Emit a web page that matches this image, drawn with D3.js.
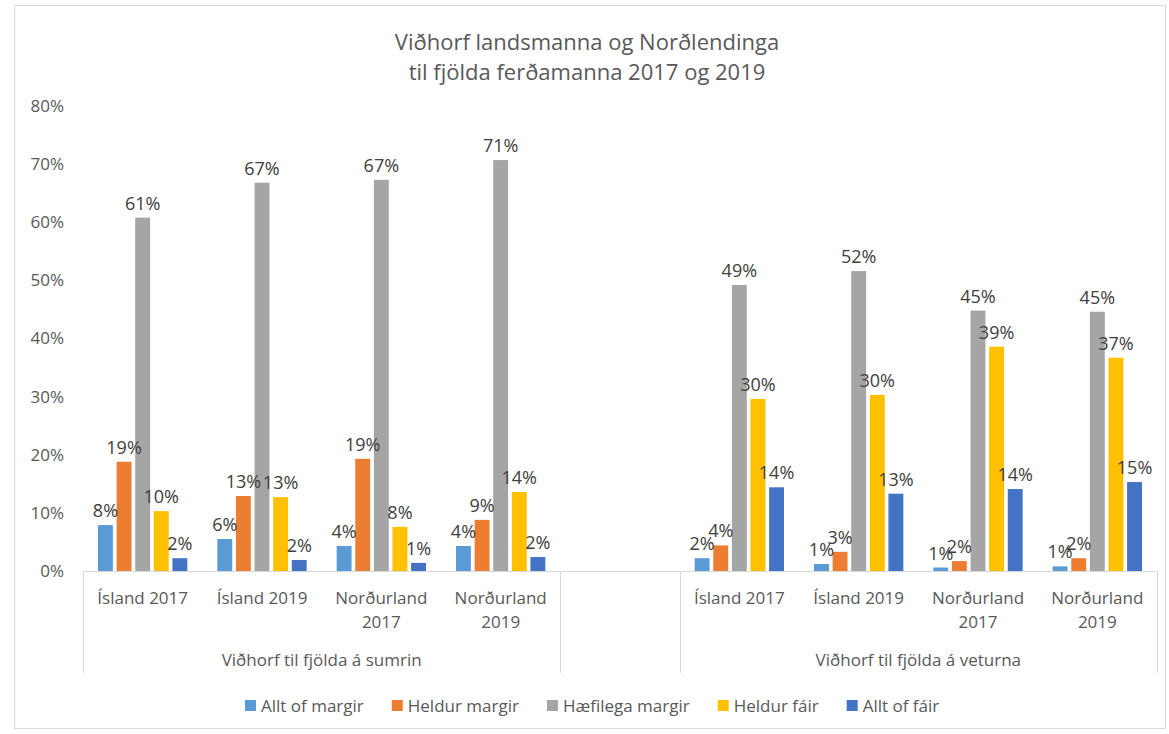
<!DOCTYPE html>
<html>
<head>
<meta charset="utf-8">
<script src="https://cdn.jsdelivr.net/npm/d3@7"></script>
<style>
  body { margin: 0; background: #fff; }
  svg { display: block; font-family: "Open Sans", "Noto Sans", sans-serif; }
</style>
</head>
<body>
<svg id="chart" width="1169" height="734"></svg>
<script>
// data
const categories = ["Ísland 2017", "Ísland 2019", "Norðurland 2017", "Norðurland 2019"];
const groups = ["Viðhorf til fjölda á sumrin", "Viðhorf til fjölda á veturna"];
const series = ["Allt of margir", "Heldur margir", "Hæfilega margir", "Heldur fáir", "Allt of fáir"];
const colors = ["#5B9BD5", "#ED7D31", "#A5A5A5", "#FFC000", "#4472C4"];

// one row per category, one value per series
const summer = [
  [7.9, 18.8, 60.8, 10.3, 2.2],
  [5.5, 12.9, 66.8, 12.7, 1.9],
  [4.3, 19.3, 67.3, 7.6, 1.4],
  [4.3, 8.8, 70.7, 13.6, 2.4]
];
const winter = [
  [2.2, 4.4, 49.2, 29.6, 14.4],
  [1.2, 3.3, 51.6, 30.3, 13.3],
  [0.6, 1.7, 44.8, 38.6, 14.1],
  [0.8, 2.2, 44.6, 36.7, 15.3]
];
const yTicks = [0, 10, 20, 30, 40, 50, 60, 70, 80];

// slots: 4 summer, one empty, 4 winter
const slots = [];
categories.forEach((c, i) => slots.push({ key: "s" + i, name: c, values: summer[i] }));
slots.push({ key: "gap", name: "", values: null });
categories.forEach((c, i) => slots.push({ key: "w" + i, name: c, values: winter[i] }));

const svg = d3.select("#chart");
const plotLeft = 83, plotRight = 1157, plotTop = 106, plotBottom = 571;

// outer border
svg.append("rect")
  .attr("x", 14.5).attr("y", 5.5)
  .attr("width", 1151).attr("height", 723)
  .attr("fill", "none").attr("stroke", "#d9d9d9");

// title
const title = svg.append("text")
  .attr("text-anchor", "middle")
  .attr("fill", "#595959")
  .style("font-size", "22px");
title.append("tspan").attr("x", 587).attr("y", 50).text("Viðhorf landsmanna og Norðlendinga");
title.append("tspan").attr("x", 587).attr("y", 80).text("til fjölda ferðamanna 2017 og 2019");

const x0 = d3.scaleBand().domain(slots.map(d => d.key)).range([plotLeft, plotRight]);
const bw = x0.bandwidth();
const x1 = d3.scaleBand().domain(series).range([15, bw - 15]).paddingInner(0.2);
const y = d3.scaleLinear().domain([0, 80]).range([plotBottom, plotTop]);

// y tick labels (no gridlines)
svg.append("g")
  .selectAll("text")
  .data(yTicks)
  .enter()
  .append("text")
  .attr("x", 64)
  .attr("y", d => y(d))
  .attr("dy", "0.35em")
  .attr("text-anchor", "end")
  .attr("fill", "#595959")
  .style("font-size", "17px")
  .text(d => d + "%");

// bars
const slotG = svg.append("g")
  .selectAll("g")
  .data(slots.filter(s => s.values))
  .enter()
  .append("g")
  .attr("transform", d => `translate(${x0(d.key)},0)`);

const barData = s => s.values.map((v, i) => ({ s: series[i], v: v, c: colors[i] }));

slotG.selectAll("rect")
  .data(barData)
  .enter()
  .append("rect")
  .attr("x", d => x1(d.s))
  .attr("y", d => y(d.v))
  .attr("width", x1.bandwidth())
  .attr("height", d => plotBottom - y(d.v))
  .attr("fill", d => d.c);

slotG.selectAll("text")
  .data(barData)
  .enter()
  .append("text")
  .attr("x", d => x1(d.s) + x1.bandwidth() / 2)
  .attr("y", d => y(d.v) - 8)
  .attr("text-anchor", "middle")
  .attr("fill", "#404040")
  .style("font-size", "18px")
  .text(d => Math.round(d.v) + "%");

// axis: horizontal line and group dividers
const axis = svg.append("g").attr("stroke", "#d9d9d9").attr("stroke-width", 1);
axis.append("line")
  .attr("x1", plotLeft).attr("x2", plotRight)
  .attr("y1", plotBottom + 0.5).attr("y2", plotBottom + 0.5);
const dividers = [plotLeft, x0("gap"), x0("gap") + bw, plotRight];
axis.selectAll(".div")
  .data(dividers)
  .enter()
  .append("line")
  .attr("x1", d => Math.round(d) + 0.5).attr("x2", d => Math.round(d) + 0.5)
  .attr("y1", plotBottom).attr("y2", 673);

// category labels (wrap "Norðurland 2017" onto two lines)
const catText = svg.append("g")
  .selectAll("text")
  .data(slots.filter(s => s.values))
  .enter()
  .append("text")
  .attr("text-anchor", "middle")
  .attr("fill", "#595959")
  .style("font-size", "17px");
catText.each(function(d) {
  const cx = x0(d.key) + bw / 2;
  const t = d3.select(this);
  const lines = d.name.startsWith("Norð") ? d.name.split(" ") : [d.name];
  lines.forEach((ln, i) => t.append("tspan").attr("x", cx).attr("y", 604 + i * 24).text(ln));
});

// group labels
const groupCenters = [
  (x0("s0") + x0("s3") + bw) / 2,
  (x0("w0") + x0("w3") + bw) / 2
];
svg.append("g")
  .selectAll("text")
  .data(groups)
  .enter()
  .append("text")
  .attr("x", (d, i) => groupCenters[i])
  .attr("y", 666)
  .attr("text-anchor", "middle")
  .attr("fill", "#595959")
  .style("font-size", "17px")
  .text(d => d);

// legend
const legend = svg.append("g").attr("transform", "translate(0,706)");
let lx = 245;
series.forEach((s, i) => {
  legend.append("rect")
    .attr("x", lx).attr("y", -6)
    .attr("width", 11).attr("height", 11)
    .attr("fill", colors[i]);
  const t = legend.append("text")
    .attr("x", lx + 16).attr("y", 0)
    .attr("dy", "0.35em")
    .attr("fill", "#595959")
    .style("font-size", "17px")
    .text(s);
  lx += 16 + t.node().getComputedTextLength() + 28;
});
</script>
</body>
</html>
